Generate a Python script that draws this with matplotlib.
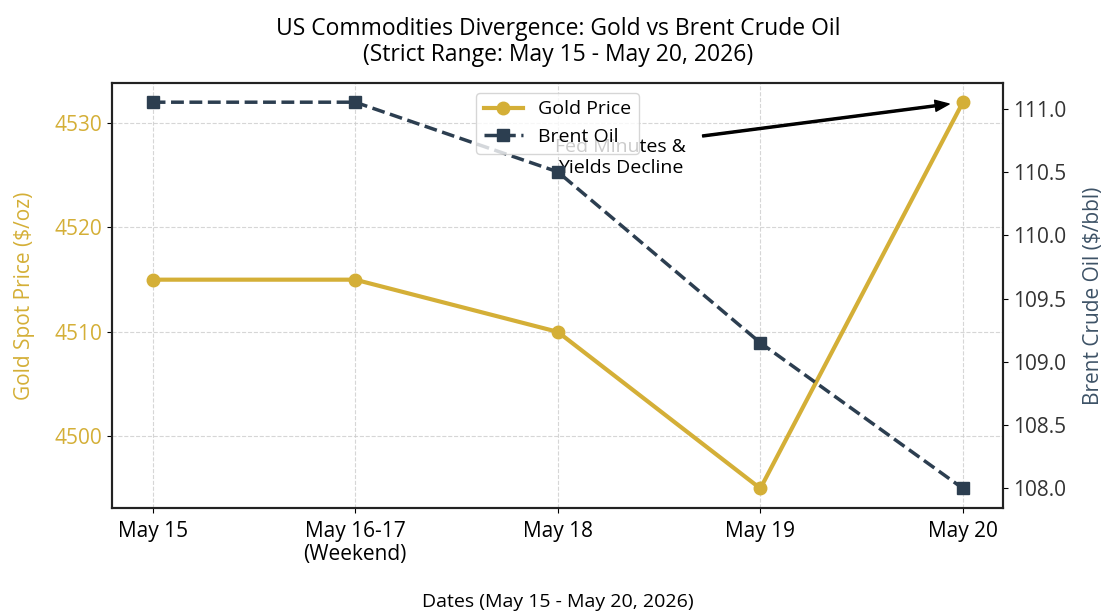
import matplotlib.pyplot as plt

plt.rcParams['font.family'] = ['Open Sans', 'DejaVu Sans']

dates = ['May 15', 'May 16-17\n(Weekend)', 'May 18', 'May 19', 'May 20']
gold = [4515, 4515, 4510, 4495, 4532]
brent = [111.05, 111.05, 110.5, 109.15, 108.0]

gold_color = '#D4AF37'
oil_color = '#2C3E50'

fig, ax1 = plt.subplots(figsize=(11.1, 6.14), dpi=100)
fig.subplots_adjust(left=0.101, right=0.904, top=0.865, bottom=0.173)

x = range(len(dates))
l1, = ax1.plot(x, gold, color=gold_color, marker='o', markersize=9,
               linewidth=3, label='Gold Price')
ax1.set_ylabel('Gold Spot Price ($/oz)', color=gold_color, fontsize=15, labelpad=14)
ax1.tick_params(axis='y', labelcolor=gold_color, labelsize=15)
ax1.tick_params(axis='x', labelsize=15, pad=6)
ax1.set_yticks([4500, 4510, 4520, 4530])
ax1.set_xticks(list(x))
ax1.set_xticklabels(dates, linespacing=1.15)
ax1.set_xlabel('Dates (May 15 - May 20, 2026)', fontsize=14, labelpad=20)
ax1.grid(True, linestyle='--', color='#cccccc', alpha=0.8)
for s in ax1.spines.values():
    s.set_linewidth(1.5)
    s.set_color('#222222')

ax2 = ax1.twinx()
l2, = ax2.plot(x, brent, color=oil_color, marker='s', markersize=8,
               linewidth=2.5, linestyle='--', label='Brent Oil')
ax2.set_ylabel('Brent Crude Oil ($/bbl)', color='#3d5266', fontsize=15, labelpad=12)
ax2.tick_params(axis='y', labelcolor='#333333', labelsize=15)
ax2.set_yticks([108.0, 108.5, 109.0, 109.5, 110.0, 110.5, 111.0])
ax2.set_yticklabels([f'{v:.1f}' for v in [108.0, 108.5, 109.0, 109.5, 110.0, 110.5, 111.0]])
for s in ax2.spines.values():
    s.set_linewidth(1.5)
    s.set_color('#222222')

ax1.annotate('Fed Minutes &\nYields Decline', xy=(4, gold[4]), xytext=(2.31, 4526.7),
             ha='center', va='center', fontsize=14, linespacing=1.2,
             arrowprops=dict(facecolor='black', edgecolor='black', shrink=0.05,
                             width=1.5, headwidth=8, headlength=10))

ax2.legend(handles=[l1, l2], loc='upper center', fontsize=14, framealpha=0.8)

ax1.set_title('US Commodities Divergence: Gold vs Brent Crude Oil\n(Strict Range: May 15 - May 20, 2026)',
              fontsize=16.5, pad=16, linespacing=1.1)

fig.savefig('out.png')
